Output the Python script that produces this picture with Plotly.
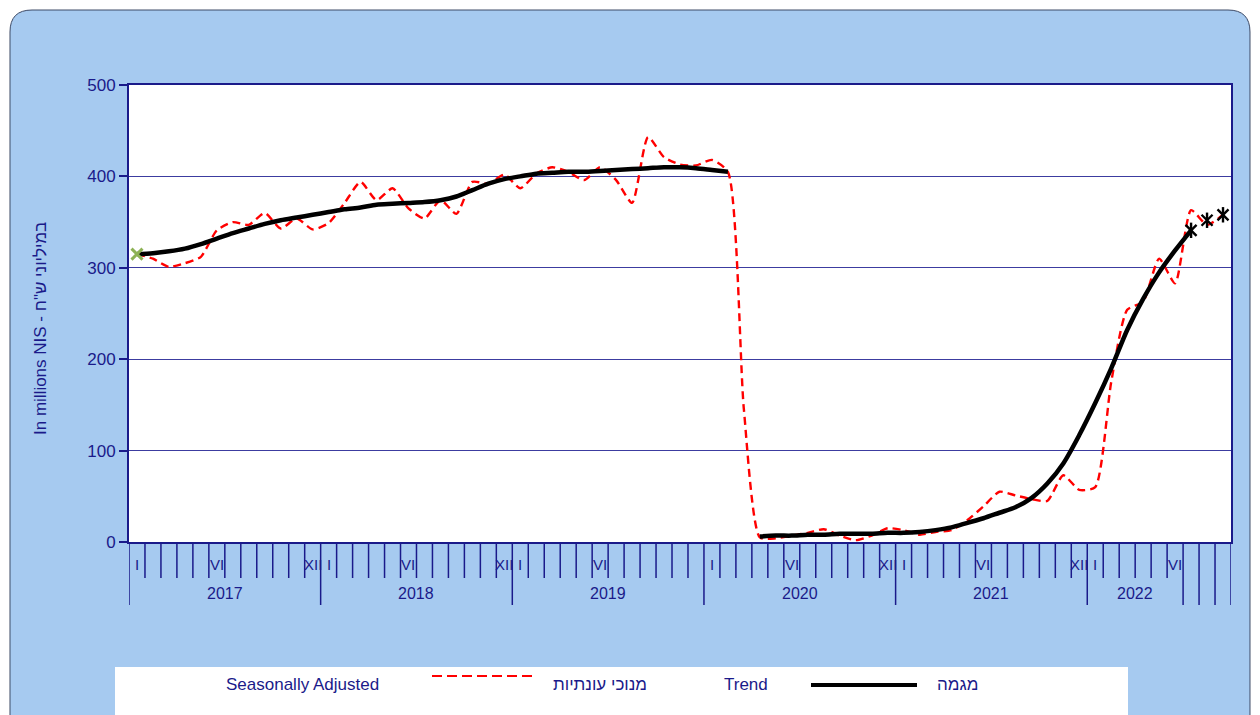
import plotly.graph_objects as go

# ---------------- data ----------------
years = [2017, 2018, 2019, 2020, 2021, 2022]
months_roman = ["I", "II", "III", "IV", "V", "VI", "VII", "VIII", "IX", "X", "XI", "XII"]
months_in_last_year = 9
shown_month_labels = ["I", "VI", "XII"]
years_without_xii_label = [2019]

seasonally_adjusted = [
    315, 310, 301, 305, 312, 341, 350, 347, 360, 343, 354, 342,   # 2017
    349, 371, 394, 374, 387, 365, 354, 374, 359, 394, 392, 402,   # 2018
    387, 403, 410, 405, 396, 410, 396, 371, 443, 421, 413, 412,   # 2019
    418, 405, 145, 5, 4, 7, 10, 14, 7, 2, 7, 15,                  # 2020
    13, 8, 11, 13, 24, 39, 55, 51, 47, 45, 73, 57,                # 2021
    60, 175, 254, 263, 310, 283, 363, 347, 358,                   # 2022
]
trend = [
    315, 316, 318, 321, 326, 332, 338, 343, 348, 352, 355, 358,
    361, 364, 366, 369, 370, 371, 372, 374, 378, 385, 392, 397,
    400, 403, 404, 405, 405, 406, 407, 408, 409, 410, 410, 409,
    407, 405, None, 6, 7, 7, 8, 8, 9, 9, 9, 10,
    10, 11, 13, 16, 21, 26, 32, 38, 48, 64, 86, 117,
    152, 190, 232, 266, 295, 319, 341, None, None,
]
trend_points = [None] * 66 + [341, 352, 358]
first_point = [315] + [None] * 68

legend_sa_en = "Seasonally Adjusted"
legend_sa_he = "מנוכי עונתיות"
legend_tr_en = "Trend"
legend_tr_he = "מגמה"
y_title = 'In millions NIS - במיליוני ש"ח'

# ---------------- geometry helpers ----------------
W, H = 1260, 715
L, R, T, B = 129, 1231, 85, 542


def fx(px):
    return (px - L) / (R - L)


def fy(py):
    return (B - py) / (B - T)


def rrect_path(x0, y0, x1, y1, r):
    pts = [
        ("M", [(x0 + r, y0)]), ("L", [(x1 - r, y0)]), ("Q", [(x1, y0), (x1, y0 + r)]),
        ("L", [(x1, y1 - r)]), ("Q", [(x1, y1), (x1 - r, y1)]), ("L", [(x0 + r, y1)]),
        ("Q", [(x0, y1), (x0, y1 - r)]), ("L", [(x0, y0 + r)]), ("Q", [(x0, y0), (x0 + r, y0)]),
    ]
    s = ""
    for cmd, ps in pts:
        s += cmd + " " + " ".join(f"{fx(a):.5f},{fy(b):.5f}" for a, b in ps) + " "
    return s + "Z"


NAVY = "#1a1a8a"
GRID = "#3c3ca0"
FONT = "Liberation Sans, Arial, sans-serif"

n = len(seasonally_adjusted)
x = list(range(n))

fig = go.Figure()

fig.add_trace(go.Scatter(
    x=x, y=seasonally_adjusted, mode="lines",
    line=dict(color="#ff0000", width=2.4, dash="8px,5px", shape="spline", smoothing=0.6),
    hoverinfo="skip", showlegend=False))
fig.add_trace(go.Scatter(
    x=x, y=trend, mode="lines", connectgaps=False,
    line=dict(color="#000000", width=4.5, shape="spline", smoothing=0.8),
    hoverinfo="skip", showlegend=False))
for sym in ["x-thin-open", "line-ns-open"]:
    fig.add_trace(go.Scatter(
        x=x, y=trend_points, mode="markers",
        marker=dict(symbol=sym, size=11, color="#000000", line=dict(color="#000000", width=2.4)),
        hoverinfo="skip", showlegend=False))
fig.add_trace(go.Scatter(
    x=x, y=first_point, mode="markers",
    marker=dict(symbol="x-thin-open", size=11, color="#8db255", line=dict(color="#8db255", width=3)),
    hoverinfo="skip", showlegend=False))

shapes = []
# outer rounded panel
shapes.append(dict(type="path", xref="paper", yref="paper", path=rrect_path(10, 10, 1250, 780, 22),
                   fillcolor="#a6caf0", line=dict(color="#3d4a66", width=1), layer="below"))
# white plot area
shapes.append(dict(type="rect", xref="paper", yref="paper", x0=0, x1=1, y0=0, y1=1,
                   fillcolor="white", line=dict(width=0), layer="below"))
# legend box
shapes.append(dict(type="rect", xref="paper", yref="paper", x0=fx(115), x1=fx(1128), y0=fy(667), y1=fy(780),
                   fillcolor="white", line=dict(width=0), layer="below"))
# legend samples
shapes.append(dict(type="line", xref="paper", yref="paper", x0=fx(432), x1=fx(532), y0=fy(676), y1=fy(676),
                   line=dict(color="#ff0000", width=2.2, dash="10px,5px")))
shapes.append(dict(type="line", xref="paper", yref="paper", x0=fx(811), x1=fx(917), y0=fy(685), y1=fy(685),
                   line=dict(color="#000000", width=4)))

# category tick marks (between months)
last_year_full_end = 12 * (len(years) - 1) + 6
for k in range(n + 1):
    long_tick = (k % 12 == 0) or k >= last_year_full_end or k == n
    shapes.append(dict(type="line", xref="x", yref="paper", x0=k - 0.5, x1=k - 0.5,
                       y0=0, y1=fy(605 if long_tick else 578),
                       line=dict(color=NAVY, width=1.5)))

annotations = []
for yi, yr in enumerate(years):
    for lab in shown_month_labels:
        if lab == "XII" and yr in years_without_xii_label:
            continue
        idx = yi * 12 + months_roman.index(lab)
        if idx < n:
            annotations.append(dict(x=idx, y=fy(564), xref="x", yref="paper", text=lab, showarrow=False,
                                    font=dict(size=15, color=NAVY, family=FONT), xanchor="center", yanchor="middle"))
    start = yi * 12
    end = min(start + 12, n, last_year_full_end if yr == years[-1] else n)
    annotations.append(dict(x=(start + end - 1) / 2, y=fy(593), xref="x", yref="paper", text=str(yr),
                            showarrow=False, font=dict(size=16, color=NAVY, family=FONT),
                            xanchor="center", yanchor="middle"))

annotations.append(dict(x=fx(40), y=fy(329), xref="paper", yref="paper", text=y_title, textangle=-90,
                        showarrow=False, font=dict(size=17, color=NAVY, family=FONT),
                        xanchor="center", yanchor="middle"))
for txt, cx, cy in [(legend_sa_en, 302, 684), (legend_sa_he, 600, 684), (legend_tr_en, 746, 684), (legend_tr_he, 957, 684)]:
    annotations.append(dict(x=fx(cx), y=fy(cy), xref="paper", yref="paper", text=txt, showarrow=False,
                            font=dict(size=17, color=NAVY, family=FONT), xanchor="center", yanchor="middle"))

fig.update_layout(
    width=W, height=H,
    margin=dict(l=L, r=W - R, t=T, b=H - B, pad=0),
    paper_bgcolor="white", plot_bgcolor="white",
    font=dict(family=FONT, color=NAVY),
    shapes=shapes, annotations=annotations, showlegend=False,
    xaxis=dict(range=[-0.5, n - 0.5], showticklabels=False, ticks="", showgrid=False, zeroline=False,
               showline=True, linecolor=NAVY, linewidth=2, mirror=True),
    yaxis=dict(range=[0, 500], dtick=100, tick0=0, ticks="outside", ticklen=8, tickwidth=1.5, tickcolor=NAVY,
               tickfont=dict(size=17, color=NAVY, family=FONT), showgrid=True, gridcolor=GRID, gridwidth=1.3,
               zeroline=False, showline=True, linecolor=NAVY, linewidth=2, mirror=True),
)

fig.write_html("out.html", config={"displayModeBar": False},
               post_script="document.body.style.margin='0';document.body.style.overflow='hidden';")
